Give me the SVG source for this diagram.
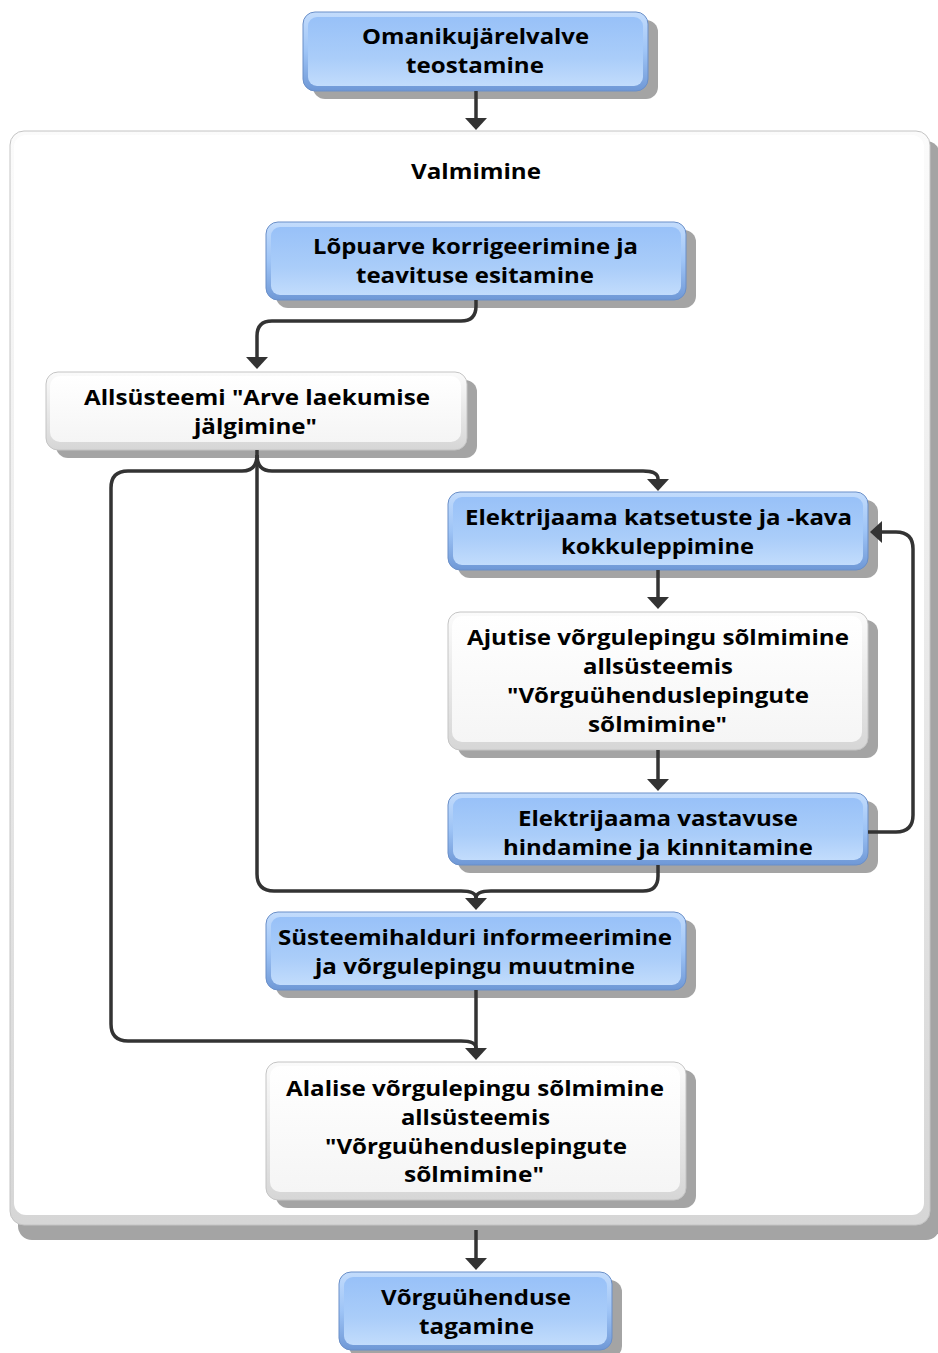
<svg xmlns="http://www.w3.org/2000/svg" width="938" height="1353" viewBox="0 0 938 1353">
  <defs>
    <linearGradient id="blueRim" x1="0" y1="0" x2="0" y2="1">
      <stop offset="0" stop-color="#c3dcfc"/>
      <stop offset="0.5" stop-color="#9ec4f6"/>
      <stop offset="1" stop-color="#6f98d6"/>
    </linearGradient>
    <linearGradient id="blueFill" x1="0" y1="0" x2="0" y2="1">
      <stop offset="0" stop-color="#98c1f8"/>
      <stop offset="0.6" stop-color="#aacdf9"/>
      <stop offset="1" stop-color="#c2dcfc"/>
    </linearGradient>
    <linearGradient id="whiteRim" x1="0" y1="0" x2="0" y2="1">
      <stop offset="0" stop-color="#fbfbfb"/>
      <stop offset="1" stop-color="#d6d6d6"/>
    </linearGradient>
    <linearGradient id="whiteFill" x1="0" y1="0" x2="0" y2="1">
      <stop offset="0" stop-color="#ffffff"/>
      <stop offset="1" stop-color="#f5f5f5"/>
    </linearGradient>
    <marker id="arrow" markerUnits="userSpaceOnUse" viewBox="0 0 12 22" refX="0" refY="11" markerWidth="12" markerHeight="22" orient="auto">
      <path d="M0,0 L12,11 L0,22 Z" fill="#333333"/>
    </marker>
  </defs>
  <style>
    .shadow { fill: #a4a4a4; }
    .blue-rim { fill: url(#blueRim); stroke: #6a8fc8; stroke-width: 1; }
    .blue-in { fill: url(#blueFill); }
    .white-rim { fill: url(#whiteRim); stroke: #c4c4c4; stroke-width: 1; }
    .white-in { fill: url(#whiteFill); }
    .label { font-family: "Open Sans", "DejaVu Sans", sans-serif; font-weight: bold; font-size: 21px; fill: #000000; text-anchor: middle; }
    .edge { fill: none; stroke: #333333; stroke-width: 3.5; }
  </style>

  <rect width="938" height="1353" fill="#ffffff"/>

  <!-- Container: Valmimine -->
  <g id="valmimine">
    <rect class="shadow" x="18" y="141" width="922" height="1099" rx="14"/>
    <rect class="white-rim" x="10" y="131" width="920" height="1094" rx="14"/>
    <rect x="14" y="135" width="910" height="1080" rx="12" fill="#ffffff"/>
    <text class="label" x="476" y="179" textLength="130" lengthAdjust="spacingAndGlyphs">Valmimine</text>
  </g>

  <!-- Nodes -->
  <g id="omanikujarelvalve">
    <rect class="shadow" x="313" y="20" width="345" height="79" rx="12"/>
    <rect class="blue-rim" x="303" y="12" width="345" height="79" rx="12"/>
    <rect class="blue-in" x="308" y="17" width="335" height="69" rx="9"/>
    <text class="label" x="475.5" y="44" textLength="227" lengthAdjust="spacingAndGlyphs">Omanikujärelvalve</text>
    <text class="label" x="475" y="73" textLength="138" lengthAdjust="spacingAndGlyphs">teostamine</text>
  </g>

  <g id="lopuarve">
    <rect class="shadow" x="276" y="230" width="420" height="78" rx="12"/>
    <rect class="blue-rim" x="266" y="222" width="420" height="78" rx="12"/>
    <rect class="blue-in" x="271" y="227" width="410" height="68" rx="9"/>
    <text class="label" x="475.5" y="254" textLength="325" lengthAdjust="spacingAndGlyphs">Lõpuarve korrigeerimine ja</text>
    <text class="label" x="475" y="283" textLength="238" lengthAdjust="spacingAndGlyphs">teavituse esitamine</text>
  </g>

  <g id="arve-laekumine">
    <rect class="shadow" x="56" y="380" width="421" height="78" rx="12"/>
    <rect class="white-rim" x="46" y="372" width="421" height="78" rx="12"/>
    <rect class="white-in" x="50" y="376" width="411" height="66" rx="10"/>
    <text class="label" x="257" y="405" textLength="346" lengthAdjust="spacingAndGlyphs">Allsüsteemi "Arve laekumise</text>
    <text class="label" x="255.5" y="434" textLength="123" lengthAdjust="spacingAndGlyphs">jälgimine"</text>
  </g>

  <g id="katsetused">
    <rect class="shadow" x="458" y="500" width="420" height="78" rx="12"/>
    <rect class="blue-rim" x="448" y="492" width="420" height="78" rx="12"/>
    <rect class="blue-in" x="453" y="497" width="410" height="68" rx="9"/>
    <text class="label" x="658.5" y="525" textLength="387" lengthAdjust="spacingAndGlyphs">Elektrijaama katsetuste ja -kava</text>
    <text class="label" x="657.5" y="554" textLength="193" lengthAdjust="spacingAndGlyphs">kokkuleppimine</text>
  </g>

  <g id="ajutine-leping">
    <rect class="shadow" x="458" y="620" width="420" height="138" rx="12"/>
    <rect class="white-rim" x="448" y="612" width="420" height="138" rx="12"/>
    <rect class="white-in" x="452" y="616" width="410" height="126" rx="10"/>
    <text class="label" x="658" y="645" textLength="382" lengthAdjust="spacingAndGlyphs">Ajutise võrgulepingu sõlmimine</text>
    <text class="label" x="658" y="674" textLength="150" lengthAdjust="spacingAndGlyphs">allsüsteemis</text>
    <text class="label" x="658" y="703" textLength="302" lengthAdjust="spacingAndGlyphs">"Võrguühenduslepingute</text>
    <text class="label" x="657.5" y="732" textLength="139" lengthAdjust="spacingAndGlyphs">sõlmimine"</text>
  </g>

  <g id="vastavus">
    <rect class="shadow" x="458" y="801" width="420" height="72" rx="12"/>
    <rect class="blue-rim" x="448" y="793" width="420" height="72" rx="12"/>
    <rect class="blue-in" x="453" y="798" width="410" height="62" rx="9"/>
    <text class="label" x="658" y="826" textLength="280" lengthAdjust="spacingAndGlyphs">Elektrijaama vastavuse</text>
    <text class="label" x="658" y="855" textLength="310" lengthAdjust="spacingAndGlyphs">hindamine ja kinnitamine</text>
  </g>

  <g id="systeemihaldur">
    <rect class="shadow" x="276" y="920" width="420" height="78" rx="12"/>
    <rect class="blue-rim" x="266" y="912" width="420" height="78" rx="12"/>
    <rect class="blue-in" x="271" y="917" width="410" height="68" rx="9"/>
    <text class="label" x="475" y="945" textLength="394" lengthAdjust="spacingAndGlyphs">Süsteemihalduri informeerimine</text>
    <text class="label" x="475" y="974" textLength="320" lengthAdjust="spacingAndGlyphs">ja võrgulepingu muutmine</text>
  </g>

  <g id="alaline-leping">
    <rect class="shadow" x="276" y="1070" width="420" height="138" rx="12"/>
    <rect class="white-rim" x="266" y="1062" width="420" height="138" rx="12"/>
    <rect class="white-in" x="270" y="1066" width="410" height="126" rx="10"/>
    <text class="label" x="475" y="1096" textLength="378" lengthAdjust="spacingAndGlyphs">Alalise võrgulepingu sõlmimine</text>
    <text class="label" x="475.5" y="1125" textLength="149" lengthAdjust="spacingAndGlyphs">allsüsteemis</text>
    <text class="label" x="476" y="1154" textLength="302" lengthAdjust="spacingAndGlyphs">"Võrguühenduslepingute</text>
    <text class="label" x="474" y="1182" textLength="140" lengthAdjust="spacingAndGlyphs">sõlmimine"</text>
  </g>

  <g id="vorguuhendus">
    <rect class="shadow" x="349" y="1280" width="273" height="78" rx="12"/>
    <rect class="blue-rim" x="339" y="1272" width="273" height="78" rx="12"/>
    <rect class="blue-in" x="344" y="1277" width="263" height="68" rx="9"/>
    <text class="label" x="476" y="1305" textLength="190" lengthAdjust="spacingAndGlyphs">Võrguühenduse</text>
    <text class="label" x="476.5" y="1334" textLength="115" lengthAdjust="spacingAndGlyphs">tagamine</text>
  </g>

  <!-- Connectors, drawn over the node shadows -->
  <g id="connectors">
    <path class="edge" d="M476,91 V118" marker-end="url(#arrow)"/>
    <path class="edge" d="M476,300 V306 Q476,321 461,321 H272 Q257,321 257,336 V357" marker-end="url(#arrow)"/>
    <path class="edge" d="M257,450 V455 Q257,471 272,471 H643 Q658,471 658,479" marker-end="url(#arrow)"/>
    <path class="edge" d="M257,455 Q257,471 242,471 H128 Q111,471 111,488 V1024 Q111,1041 128,1041 H461 Q476,1041 476,1048" marker-end="url(#arrow)"/>
    <path class="edge" d="M257,455 V874 Q257,891 274,891 H461 Q476,891 476,898" marker-end="url(#arrow)"/>
    <path class="edge" d="M658,865 V876 Q658,891 643,891 H491 Q476,891 476,898"/>
    <path class="edge" d="M658,570 V597" marker-end="url(#arrow)"/>
    <path class="edge" d="M658,750 V779" marker-end="url(#arrow)"/>
    <path class="edge" d="M868,832 H896 Q913,832 913,815 V549 Q913,532 896,532 H882" marker-end="url(#arrow)"/>
    <path class="edge" d="M476,990 V1048"/>
    <path class="edge" d="M476,1230 V1258" marker-end="url(#arrow)"/>
  </g>
</svg>
